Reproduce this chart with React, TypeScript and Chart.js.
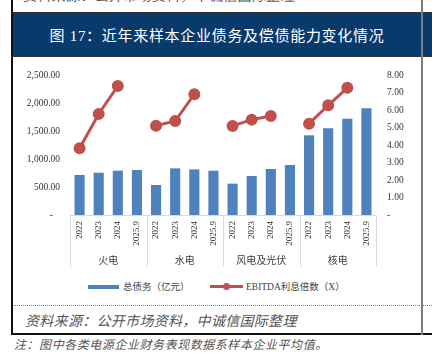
import React, { useEffect, useRef } from 'react';
import { Chart, registerables } from 'chart.js';

Chart.register(...registerables);

const categories = ['2022', '2023', '2024', '2025.9', '2022', '2023', '2024', '2025.9', '2022', '2023', '2024', '2025.9', '2022', '2023', '2024', '2025.9'];
const groups = ['火电', '水电', '风电及光伏', '核电'];
const totalDebt = [714, 755, 791, 803, 536, 833, 815, 791, 560, 696, 821, 893, 1423, 1548, 1720, 1905];
const ebitdaCoverage = [3.81, 5.77, 7.37, null, 5.1, 5.37, 6.9, null, 5.09, 5.45, 5.66, null, 5.22, 6.27, 7.27, null];
const debtLabel = '总债务（亿元）';
const coverageLabel = 'EBITDA利息倍数（X）';
const leftMax = 2500;
const leftStep = 500;
const rightMax = 8;
const rightStep = 1;
const titleText = '图 17：近年来样本企业债务及偿债能力变化情况';
const sourceText = '资料来源：公开市场资料，中诚信国际整理';
const noteText = '注：图中各类电源企业财务表现数据系样本企业平均值。';

const FONT = '"Liberation Serif", "Noto Sans CJK SC", serif';
const BLUE = '#4f81bd';
const RED = '#c0504d';

const groupPlugin = {
  id: 'groupLabels',
  afterDraw(chart: any) {
    const { ctx, chartArea } = chart;
    const n = groups.length;
    const w = (chartArea.right - chartArea.left) / n;
    ctx.save();
    ctx.strokeStyle = '#d9d9d9';
    ctx.lineWidth = 1;
    ctx.beginPath();
    ctx.moveTo(chartArea.left, Math.round(chartArea.bottom) + 0.5);
    ctx.lineTo(chartArea.right, Math.round(chartArea.bottom) + 0.5);
    ctx.stroke();
    for (let i = 0; i <= n; i++) {
      const x = Math.round(chartArea.left + i * w) + 0.5;
      ctx.beginPath();
      ctx.moveTo(x, chartArea.bottom);
      ctx.lineTo(x, chartArea.bottom + 52);
      ctx.stroke();
    }
    ctx.fillStyle = '#404040';
    ctx.font = '10px ' + FONT;
    ctx.textAlign = 'center';
    ctx.textBaseline = 'middle';
    groups.forEach((g, i) => {
      ctx.fillText(g, chartArea.left + (i + 0.5) * w, chartArea.bottom + 46);
    });
    ctx.restore();
  },
};

function ChartBox() {
  const ref = useRef<HTMLCanvasElement>(null);
  useEffect(() => {
    const canvas = ref.current;
    if (!canvas) return;
    const chart = new Chart(canvas, {
      type: 'bar',
      data: {
        labels: categories,
        datasets: [
          {
            type: 'line',
            label: coverageLabel,
            data: ebitdaCoverage,
            yAxisID: 'y1',
            borderColor: RED,
            backgroundColor: RED,
            pointBackgroundColor: RED,
            pointBorderColor: RED,
            borderWidth: 3,
            pointRadius: 4.5,
            spanGaps: false,
            tension: 0,
            order: 0,
          } as any,
          {
            type: 'bar',
            label: debtLabel,
            data: totalDebt,
            yAxisID: 'y',
            backgroundColor: BLUE,
            borderWidth: 0,
            barPercentage: 0.53,
            categoryPercentage: 1,
            order: 1,
          } as any,
        ],
      },
      options: {
        responsive: false,
        animation: false,
        devicePixelRatio: 1,
        layout: { padding: { top: 17, left: 0, right: 0, bottom: 0 } },
        plugins: { legend: { display: false }, tooltip: { enabled: false } },
        scales: {
          x: {
            type: 'category',
            grid: { display: false, drawTicks: false },
            border: { display: false },
            ticks: {
              autoSkip: false,
              minRotation: 90,
              maxRotation: 90,
              padding: 6,
              color: '#333',
              font: { family: FONT, size: 9 },
            },
            afterFit(scale: any) {
              scale.height = 57;
            },
          },
          y: {
            type: 'linear',
            position: 'left',
            min: 0,
            max: leftMax,
            grid: { display: false, drawTicks: false },
            border: { display: false },
            ticks: {
              stepSize: leftStep,
              padding: 10,
              color: '#333',
              font: { family: FONT, size: 9.5 },
              callback: (v: any) =>
                Number(v) === 0
                  ? '-   '
                  : Number(v).toLocaleString('en-US', { minimumFractionDigits: 2, maximumFractionDigits: 2 }),
            },
            afterFit(scale: any) {
              scale.width = 58;
            },
          },
          y1: {
            type: 'linear',
            position: 'right',
            min: 0,
            max: rightMax,
            grid: { display: false, drawTicks: false },
            border: { display: false },
            ticks: {
              stepSize: rightStep,
              padding: 11,
              color: '#333',
              font: { family: FONT, size: 9.5 },
              callback: (v: any) => (Number(v) === 0 ? '-' : Number(v).toFixed(2)),
            },
            afterFit(scale: any) {
              scale.width = 45;
            },
          },
        },
      },
      plugins: [groupPlugin],
    });
    return () => chart.destroy();
  }, []);
  return <canvas ref={ref} width={409} height={214} style={{ width: 409, height: 214, display: 'block' }} />;
}

export default function App() {
  const abs = (s: React.CSSProperties): React.CSSProperties => ({ position: 'absolute', ...s });
  return (
    <div
      style={{
        position: 'fixed',
        left: 0,
        top: 0,
        width: 432,
        height: 355,
        background: '#fff',
        overflow: 'hidden',
        fontFamily: FONT,
      }}
    >
      {/* cropped source text from previous figure */}
      <div style={abs({ left: 23, top: -11, fontSize: 14, lineHeight: '16px', fontStyle: 'italic', color: '#555', letterSpacing: 0.3, whiteSpace: 'nowrap' })}>
        {sourceText}
      </div>
      {/* header bar */}
      <div
        style={abs({
          left: 12,
          top: 12,
          width: 420,
          height: 45,
          background: '#083a6c',
          borderTop: '1px solid #333',
          borderBottom: '1px solid #333',
          boxSizing: 'border-box',
        })}
      />
      <div
        style={abs({
          left: 12,
          top: 12,
          width: 410,
          height: 45,
          lineHeight: '48px',
          textAlign: 'center',
          color: '#fff',
          fontSize: 15,
          letterSpacing: 0.7,
          whiteSpace: 'nowrap',
        })}
      >
        {titleText}
      </div>
      {/* chart */}
      <div style={abs({ left: 12, top: 58, width: 409, height: 214 })}>
        <ChartBox />
      </div>
      {/* legend */}
      <div style={abs({ left: 88, top: 285, width: 31, height: 4, background: BLUE })} />
      <div style={abs({ left: 123, top: 279, fontSize: 9.5, lineHeight: '16px', color: '#404040', whiteSpace: 'nowrap' })}>{debtLabel}</div>
      <div style={abs({ left: 210, top: 285, width: 33, height: 3, background: RED })} />
      <div style={abs({ left: 223, top: 283, width: 7, height: 7, borderRadius: '50%', background: RED })} />
      <div style={abs({ left: 246, top: 279, fontSize: 9.5, lineHeight: '16px', color: '#404040', whiteSpace: 'nowrap' })}>{coverageLabel}</div>
      {/* dotted separator */}
      <div style={abs({ left: 12, top: 305, width: 420, height: 0, borderTop: '1px dotted #777' })} />
      {/* source */}
      <div style={abs({ left: 25, top: 313, fontSize: 14, lineHeight: '18px', fontStyle: 'italic', color: '#555', letterSpacing: 0.3, whiteSpace: 'nowrap' })}>
        {sourceText}
      </div>
      {/* bottom line */}
      <div style={abs({ left: 11, top: 333, width: 421, height: 2, background: '#111' })} />
      {/* left border */}
      <div style={abs({ left: 11, top: 0, width: 2, height: 335, background: '#111' })} />
      {/* right gray border */}
      <div style={abs({ left: 421, top: 0, width: 2, height: 335, background: '#7f7f7f' })} />
      {/* note */}
      <div style={abs({ left: 14, top: 337, fontSize: 12, lineHeight: '16px', fontStyle: 'italic', color: '#555', letterSpacing: 0.55, whiteSpace: 'nowrap' })}>
        {noteText}
      </div>
    </div>
  );
}
